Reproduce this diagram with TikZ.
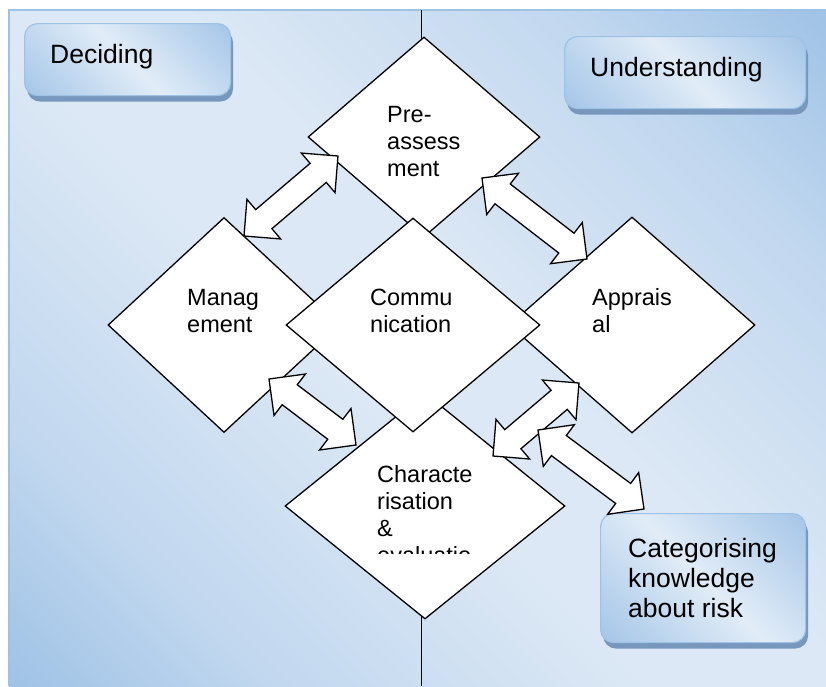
\documentclass[tikz,border=0pt]{standalone}
\usepackage{fontspec}
\setmainfont{Liberation Sans}
\usetikzlibrary{shapes.geometric,calc,shadows}

\definecolor{bgdark}{HTML}{9FC2E6}
\definecolor{bgmid}{HTML}{C2D8EF}
\definecolor{bglight}{HTML}{DCE8F5}
\definecolor{tagdark}{HTML}{A5C6E8}
\definecolor{taglight}{HTML}{E1ECF7}
\definecolor{tagedge}{HTML}{9CC2E5}
\definecolor{tagshadow}{HTML}{7897BC}

% dark - light - dark across the panel diagonal
\pgfdeclarehorizontalshading{bgmirror}{100bp}{color(0bp)=(bgdark); color(28bp)=(bgdark); color(36bp)=(bgmid); color(47bp)=(bglight); color(53bp)=(bglight); color(64bp)=(bgmid); color(72bp)=(bgdark); color(100bp)=(bgdark)}
\pgfdeclarehorizontalshading{tagmirror}{100bp}{color(0bp)=(tagdark); color(15bp)=(tagdark); color(50bp)=(taglight); color(85bp)=(tagdark); color(100bp)=(tagdark)}

\tikzset{
  stage/.style={diamond, draw=black, line width=1.3pt, fill=white, inner sep=0pt},
  stagetext/.style={anchor=base west, inner sep=0pt, font=\fontsize{23.5}{27.3}\selectfont},
  tagbox/.style={rounded corners=13pt, draw=tagedge, line width=1.2pt,
    shading=tagmirror, shading angle=45, anchor=north west, inner sep=0pt,
    drop shadow={opacity=1, fill=tagshadow, shadow xshift=2.5pt, shadow yshift=-6pt}},
  tagtext/.style={anchor=base west, inner sep=0pt, font=\fontsize{26.5}{30}\selectfont},
  linkarrow/.style={draw=black, line width=1.3pt, fill=white, line join=miter},
  divider/.style={draw=black, line width=1.2pt}
}

% two-headed block arrow from tip #1 to tip #2
\newcommand{\twowayarrow}[2]{%
  \path[linkarrow] let \p1=(#1), \p2=(#2),
    \n1={atan2(\y2-\y1,\x2-\x1)}, \n2={veclen(\x2-\x1,\y2-\y1)} in
    [shift={(\p1)}, rotate=\n1]
    (0pt,0pt) -- (26pt,26pt) -- (26pt,12.5pt) -- ({\n2-26pt},12.5pt)
    -- ({\n2-26pt},26pt) -- (\n2,0pt) -- ({\n2-26pt},-26pt)
    -- ({\n2-26pt},-12.5pt) -- (26pt,-12.5pt) -- (26pt,-26pt) -- cycle;}

\begin{document}
\begin{tikzpicture}[x=1pt, y=-1pt]
  \useasboundingbox (0,0) rectangle (826,686);

  % panel with its diagonal shading
  \coordinate (panelmid) at (417.5,348);
  \begin{scope}
    \clip (9,10) rectangle (826,686);
    \path[shading=bgmirror, transform canvas={rotate around={45:(panelmid)}}]
      ($(panelmid)+(-600,-600)$) rectangle ($(panelmid)+(600,600)$);
  \end{scope}
  \draw[tagedge, line width=1.5pt] (9,686) -- (9,10) -- (826,10);

  % divider between the two halves
  \coordinate (divtop) at (421.5,10);
  \coordinate (divbot) at (421.5,686);
  \draw[divider] (divtop) -- (divbot);

  % side labels
  \node[tagbox, minimum width=206pt, minimum height=72pt] (deciding) at (24,23) {};
  \node[tagtext] (deciding-text) at (50,63) {Deciding};
  \node[tagbox, minimum width=241pt, minimum height=72pt] (understanding) at (564,36) {};
  \node[tagtext] (understanding-text) at (590,76) {Understanding};
  \node[tagbox, minimum width=205pt, minimum height=129pt] (categorising) at (600,513) {};
  \node[tagtext] (categorising-text) at (628,557)
    {\parbox[t]{180pt}{\raggedright Categorising\\knowledge\\about risk}};

  % stages
  \node[stage, minimum width=232pt, minimum height=200pt] (pre) at (424,137) {};
  \node[stage, minimum width=232pt, minimum height=215pt] (mgmt) at (224,325) {};
  \node[stage, minimum width=246pt, minimum height=216pt] (appr) at (632,325) {};
  \node[stage, minimum width=280pt, minimum height=226pt] (char) at (425,506) {};
  \node[stage, minimum width=254pt, minimum height=214pt] (comm) at (413,325) {};

  \node[stagetext] (pre-text) at (387,122) {\parbox[t]{150pt}{\raggedright Pre-\\assess\\ment}};
  \node[stagetext] (mgmt-text) at (187,305) {\parbox[t]{150pt}{\raggedright Manag\\ement}};
  \node[stagetext] (appr-text) at (592,305) {\parbox[t]{150pt}{\raggedright Apprais\\al}};
  \node[stagetext] (comm-text) at (370,305) {\parbox[t]{150pt}{\raggedright Commu\\nication}};
  \begin{scope}
    \clip (280,380) rectangle (570,553);
    \node[stagetext] (char-text) at (377,482)
      {\parbox[t]{150pt}{\raggedright Characte\\risation\\\&\\evaluatio}};
  \end{scope}

  % arrow tips
  \coordinate (pm1) at (244,236);  \coordinate (pm2) at (338,156);
  \coordinate (pa1) at (482,178);  \coordinate (pa2) at (587,259);
  \coordinate (mc1) at (269,379);  \coordinate (mc2) at (356,445);
  \coordinate (ca1) at (493,456);  \coordinate (ca2) at (579,383);
  \coordinate (ck1) at (538,430);  \coordinate (ck2) at (644,509);

  \twowayarrow{pm1}{pm2}
  \twowayarrow{pa1}{pa2}
  \twowayarrow{mc1}{mc2}
  \twowayarrow{ca1}{ca2}
  \twowayarrow{ck1}{ck2}
\end{tikzpicture}
\end{document}
